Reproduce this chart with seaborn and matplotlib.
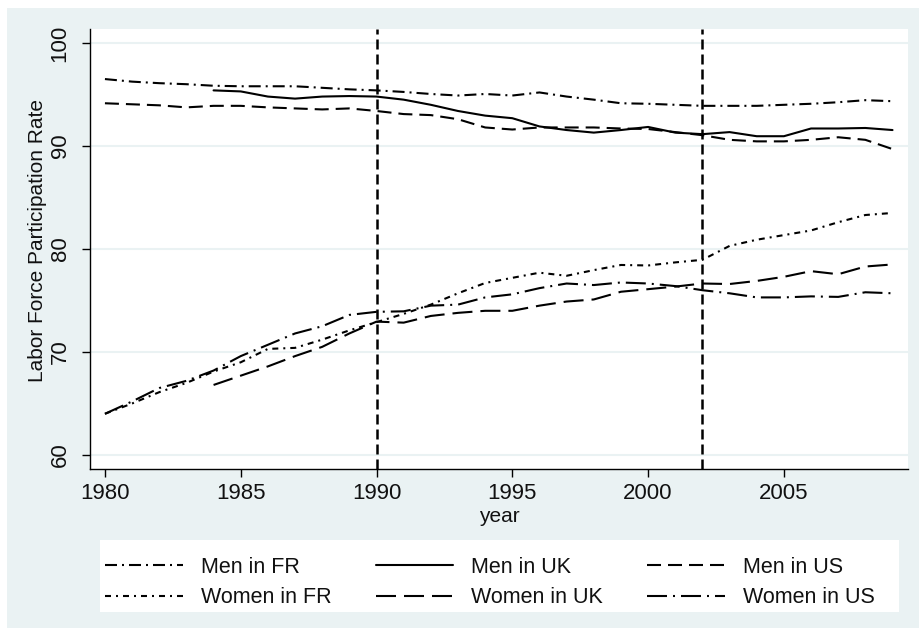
import numpy as np
import pandas as pd
import matplotlib
matplotlib.use("Agg")
import matplotlib.pyplot as plt
from matplotlib.patches import Rectangle
from matplotlib.lines import Line2D
import seaborn as sns

years = list(range(1980, 2010))
nan = np.nan

men_fr = [96.5, 96.25, 96.1, 96.0, 95.85, 95.8, 95.8, 95.8, 95.65, 95.5,
          95.4, 95.25, 95.05, 94.9, 95.05, 94.9, 95.2, 94.8, 94.5, 94.15,
          94.1, 94.0, 93.9, 93.9, 93.9, 94.0, 94.1, 94.25, 94.45, 94.35]
men_uk = [nan, nan, nan, nan, 95.4, 95.3, 94.8, 94.6, 94.8, 94.85,
          94.8, 94.5, 94.0, 93.4, 92.95, 92.7, 91.9, 91.55, 91.3, 91.55,
          91.85, 91.3, 91.15, 91.35, 90.95, 90.95, 91.7, 91.7, 91.75, 91.55]
men_us = [94.15, 94.05, 93.95, 93.75, 93.9, 93.9, 93.75, 93.65, 93.55, 93.65,
          93.4, 93.1, 93.0, 92.6, 91.8, 91.6, 91.8, 91.8, 91.8, 91.7,
          91.65, 91.35, 91.05, 90.6, 90.45, 90.45, 90.6, 90.85, 90.6, 89.7]
women_fr = [64.0, 65.0, 66.1, 67.0, 68.1, 69.0, 70.3, 70.4, 71.2, 72.1,
            72.9, 73.7, 74.6, 75.7, 76.7, 77.2, 77.7, 77.4, 77.95, 78.45,
            78.4, 78.7, 78.95, 80.3, 80.9, 81.35, 81.8, 82.6, 83.3, 83.5]
women_uk = [nan, nan, nan, nan, 66.8, 67.7, 68.6, 69.6, 70.5, 71.8,
            72.95, 72.85, 73.5, 73.8, 74.0, 74.0, 74.5, 74.9, 75.1, 75.85,
            76.1, 76.35, 76.65, 76.6, 76.9, 77.3, 77.85, 77.55, 78.3, 78.5]
women_us = [64.0, 65.2, 66.5, 67.2, 68.2, 69.6, 70.7, 71.8, 72.5, 73.6,
            73.9, 73.95, 74.5, 74.6, 75.3, 75.6, 76.2, 76.65, 76.5, 76.75,
            76.65, 76.4, 76.0, 75.7, 75.3, 75.3, 75.4, 75.35, 75.8, 75.7]

series_names = ["Men in FR", "Men in UK", "Men in US",
                "Women in FR", "Women in UK", "Women in US"]
series_values = [men_fr, men_uk, men_us, women_fr, women_uk, women_us]
break_years = [1990, 2002]
y_ticks = [60, 70, 80, 90, 100]
x_ticks = [1980, 1985, 1990, 1995, 2000, 2005]

# long-format table for seaborn
frames = []
for name, vals in zip(series_names, series_values):
    frames.append(pd.DataFrame({"year": years, "rate": vals, "series": name}))
df = pd.concat(frames).dropna()

DPI = 100
W, H = 919, 636
PX = 72.0 / DPI  # points per pixel


def pts(seq):
    return tuple(v * PX for v in seq)


dash_map = {
    "Men in FR": pts([12, 5, 2, 5]),
    "Men in UK": "",
    "Men in US": pts([14, 7]),
    "Women in FR": pts([6, 5, 2, 5]),
    "Women in UK": pts([20, 8]),
    "Women in US": pts([20, 6, 2, 6]),
}

sns.set_theme(style="white")
plt.rcParams["font.family"] = ["Liberation Sans", "DejaVu Sans"]
plt.rcParams["lines.scale_dashes"] = False

bg = "#EAF2F3"
fig = plt.figure(figsize=(W / DPI, H / DPI), dpi=DPI, facecolor="white")
fig.patches.append(Rectangle((7 / W, 1 - 628 / H), (W - 7) / W, (628 - 8) / H,
                             transform=fig.transFigure, facecolor=bg,
                             edgecolor="none", zorder=-10))
# legend box
fig.patches.append(Rectangle((100 / W, 1 - 612 / H), 799 / W, 72 / H,
                             transform=fig.transFigure, facecolor="white",
                             edgecolor="none", zorder=-5))

ax = fig.add_axes([90 / W, 1 - 469 / H, (908 - 90) / W, (469 - 29) / H])
ax.set_facecolor("white")

sns.lineplot(data=df, x="year", y="rate", hue="series", style="series",
             hue_order=series_names, style_order=series_names,
             palette={n: "black" for n in series_names}, dashes=dash_map,
             errorbar=None, linewidth=1.5, legend=False, ax=ax, zorder=3)

for yr in break_years:
    ax.axvline(yr, color="black", linewidth=1.8, dashes=pts([10, 5]), zorder=4)

ax.set_xlim(1979.45, 2009.57)
ax.set_ylim(58.64, 101.36)
ax.set_xticks(x_ticks)
ax.set_yticks(y_ticks)
ax.yaxis.grid(True, color=bg, linewidth=1.5)
ax.xaxis.grid(False)
ax.set_axisbelow(True)

for side in ["top", "right"]:
    ax.spines[side].set_visible(False)
for side in ["left", "bottom"]:
    ax.spines[side].set_color("black")
    ax.spines[side].set_linewidth(1.0)

ax.tick_params(axis="both", which="major", direction="out", length=6,
               width=1.0, color="black", labelsize=16, labelcolor="#111111",
               left=True, bottom=True)
ax.tick_params(axis="x", pad=4)
ax.tick_params(axis="y", pad=8, labelrotation=90)
for lab in ax.get_yticklabels():
    lab.set_va("center")

ax.set_xlabel("year", fontsize=15, color="#111111", labelpad=2)
ax.set_ylabel("Labor Force Participation Rate", fontsize=15, color="#111111",
              labelpad=1)
ax.yaxis.set_label_coords(-0.053, 0.52)

# legend in row-major visual order (matplotlib fills columns first)
handles = {}
for n in series_names:
    h = Line2D([], [], color="black", linewidth=1.5)
    if dash_map[n]:
        h.set_dashes(dash_map[n])
    handles[n] = h
order = ["Men in FR", "Women in FR", "Men in UK", "Women in UK",
         "Men in US", "Women in US"]
fig.legend([handles[n] for n in order], order, ncol=3, loc="upper left",
           bbox_to_anchor=(105 / W, 1 - 557 / H), frameon=False,
           fontsize=15.5, handlelength=3.6, handletextpad=0.85,
           columnspacing=2.05, borderpad=0, borderaxespad=0, labelspacing=0.42,
           labelcolor="#111111")

fig.savefig("out.png", dpi=DPI, facecolor="white")
